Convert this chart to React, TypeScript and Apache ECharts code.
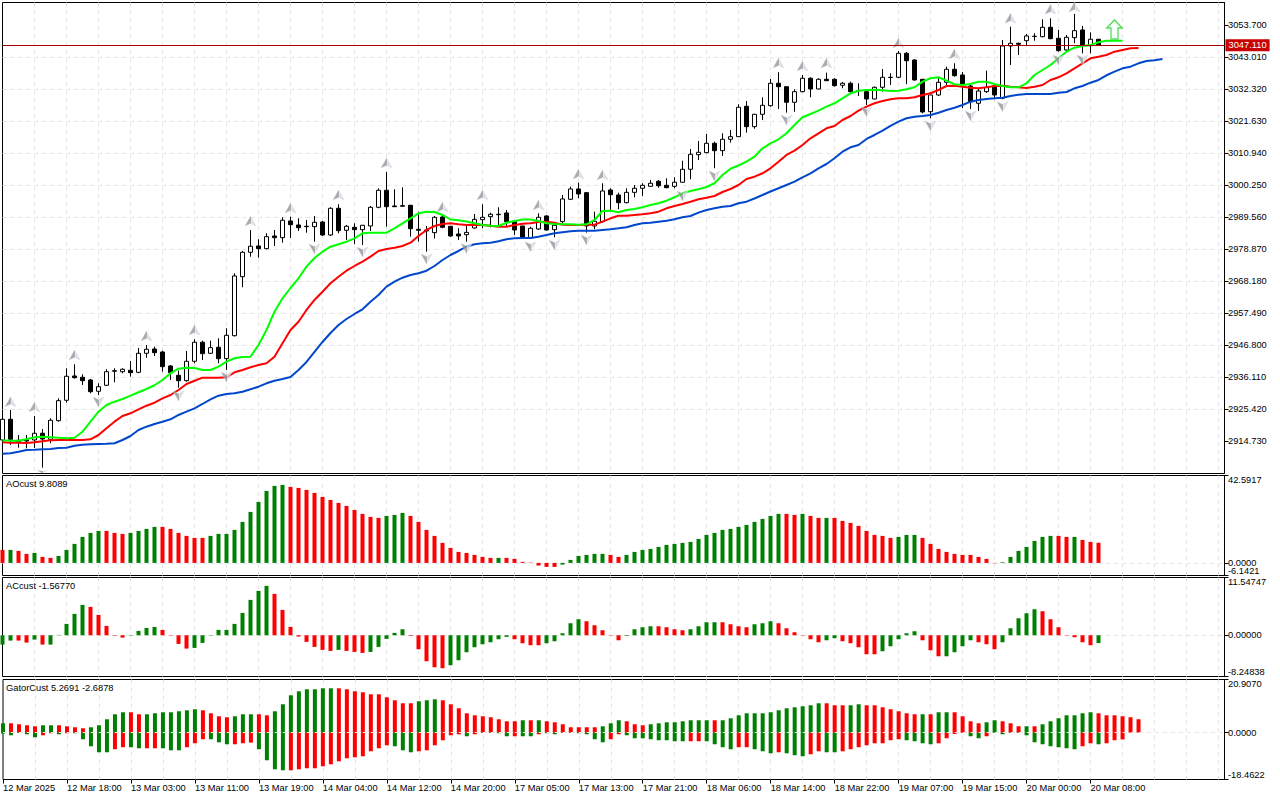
import React, { useEffect, useRef } from "react";
import * as echarts from "echarts";

// open, close, low, high per bar
const candles: number[][] = [
[2915.24,2922.15,2914.24,2923.26],[2922.15,2915.47,2913.57,2925.26],[2915.14,2914.67,2912.67,2916.91],[2915.24,2914.90,2912.46,2916.91],
[2915.24,2917.48,2912.57,2923.26],[2917.48,2915.57,2905.98,2918.91],[2915.47,2921.82,2914.14,2922.49],[2921.69,2928.37,2921.35,2929.17],
[2928.50,2936.52,2927.70,2939.19],[2936.62,2936.05,2935.72,2940.53],[2936.18,2935.05,2933.61,2937.19],[2935.28,2931.37,2930.84,2935.62],
[2931.51,2933.04,2930.27,2934.18],[2933.51,2938.05,2933.28,2938.86],[2938.19,2938.39,2934.51,2939.19],[2938.05,2938.86,2937.52,2939.19],
[2938.52,2937.72,2936.38,2941.63],[2937.85,2944.20,2937.52,2945.97],[2944.20,2945.54,2942.73,2946.97],[2945.64,2944.40,2943.30,2946.41],
[2944.63,2939.72,2938.05,2945.07],[2939.96,2937.72,2935.28,2940.29],[2936.85,2935.05,2932.71,2938.39],[2935.05,2941.53,2934.71,2944.97],
[2941.53,2947.88,2940.86,2948.88],[2947.88,2944.07,2941.96,2948.41],[2944.20,2946.07,2943.97,2948.41],[2946.20,2942.40,2940.86,2949.21],
[2942.40,2950.21,2938.62,2952.55],[2950.08,2970.02,2949.81,2970.93],[2969.79,2977.94,2966.25,2978.38],[2977.94,2979.95,2976.47,2985.39],
[2980.05,2979.14,2976.14,2982.28],[2979.14,2983.15,2978.94,2984.29],[2983.39,2982.82,2980.05,2985.39],[2982.82,2988.63,2981.15,2989.63],
[2988.40,2987.16,2982.72,2989.84],[2987.06,2986.16,2985.06,2989.30],[2986.63,2986.49,2984.49,2988.73],[2986.49,2987.96,2981.48,2990.07],
[2988.06,2983.72,2983.39,2988.40],[2983.72,2992.64,2983.39,2992.97],[2992.64,2985.16,2984.29,2993.97],[2985.29,2986.63,2982.05,2987.06],
[2986.29,2985.49,2980.71,2987.63],[2985.49,2986.96,2980.38,2987.06],[2986.73,2992.97,2985.06,2993.41],[2992.97,2998.65,2992.64,2999.32],
[2998.65,2993.17,2986.49,3004.77],[2993.41,2993.17,2993.10,2998.99],[2993.51,2993.34,2993.17,2999.66],[2993.64,2985.82,2983.15,2993.74],
[2985.62,2985.29,2981.48,2991.50],[2985.39,2985.06,2978.14,2986.73],[2984.49,2989.63,2982.55,2990.07],[2989.73,2986.29,2985.96,2990.07],
[2986.63,2983.39,2983.15,2986.73],[2984.05,2983.39,2982.05,2985.96],[2983.82,2984.59,2981.48,2987.39],[2986.06,2988.93,2985.82,2990.74],
[2988.83,2989.63,2985.96,2993.97],[2989.84,2990.64,2986.29,2991.17],[2990.50,2990.64,2987.06,2992.97],[2991.07,2988.17,2986.73,2992.07],
[2988.17,2985.39,2983.72,2988.73],[2986.73,2982.72,2982.48,2986.73],[2982.72,2985.96,2982.48,2986.49],[2985.72,2989.63,2985.39,2990.97],
[2990.07,2985.39,2985.16,2990.30],[2985.49,2986.96,2982.94,2987.63],[2988.17,2995.75,2987.63,2997.08],[2995.65,2999.09,2995.41,2999.86],
[2999.09,2997.42,2995.98,3001.19],[2997.85,2986.73,2984.49,2998.09],[2986.73,2988.30,2985.62,2991.50],[2988.17,2998.42,2987.83,3000.99],
[2998.75,2997.18,2992.07,2999.32],[2997.08,2994.51,2992.31,2997.85],[2994.51,2997.96,2994.30,2999.32],[2997.96,2999.32,2996.31,3000.42],
[2999.32,3000.32,2996.75,3000.99],[2999.98,3000.99,2999.86,3002.09],[3001.66,3000.19,2999.52,3002.09],[3000.32,2999.52,2999.32,3002.66],
[2999.98,3001.33,2999.32,3002.99],[3001.33,3005.67,3001.19,3008.54],[3005.67,3010.68,3002.33,3012.45],[3010.55,3011.35,3008.77,3015.12],
[3011.22,3014.35,3011.01,3017.46],[3014.35,3011.88,3006.00,3014.89],[3011.88,3015.69,3010.11,3017.69],[3015.69,3016.56,3014.60,3018.80],
[3016.56,3026.38,3016.46,3027.38],[3026.71,3019.90,3017.90,3028.48],[3019.90,3024.04,3019.23,3024.14],[3024.04,3027.05,3022.14,3029.72],
[3026.92,3034.40,3026.58,3035.83],[3034.40,3033.26,3025.81,3038.07],[3033.26,3028.05,3024.58,3033.26],[3028.05,3031.59,3024.91,3032.39],
[3031.59,3036.07,3031.39,3037.17],[3036.07,3032.49,3029.72,3036.40],[3032.49,3035.73,3032.39,3036.07],[3035.73,3035.26,3035.26,3037.94],
[3035.73,3033.59,3033.26,3036.07],[3033.73,3034.40,3032.73,3034.83],[3034.40,3031.59,3031.06,3034.93],[3031.99,3031.93,3030.15,3034.40],
[3031.59,3029.15,3027.15,3032.16],[3029.15,3033.06,3029.05,3033.30],[3033.06,3036.40,3031.59,3039.17],[3036.33,3036.40,3033.83,3037.74],
[3036.40,3044.41,3036.07,3045.18],[3044.41,3041.94,3034.08,3044.85],[3042.17,3035.50,3035.26,3042.40],[3035.73,3024.81,3024.37,3035.73],
[3024.91,3030.49,3022.70,3030.49],[3030.49,3034.73,3030.15,3036.60],[3034.73,3039.07,3033.26,3039.94],[3039.07,3036.93,3036.60,3041.08],
[3037.17,3033.83,3026.14,3038.17],[3033.49,3028.25,3025.81,3033.83],[3027.72,3031.82,3025.14,3032.73],[3031.59,3033.06,3031.16,3038.60],
[3033.49,3030.49,3029.05,3033.83],[3029.39,3046.86,3029.05,3048.86],[3046.86,3047.76,3040.51,3053.30],[3047.76,3047.43,3043.85,3047.96],
[3048.63,3050.20,3047.19,3050.87],[3050.03,3050.10,3048.63,3051.10],[3049.96,3053.10,3049.76,3055.78],[3053.10,3049.30,3049.10,3056.11],
[3049.43,3045.29,3044.96,3052.20],[3045.52,3049.76,3044.96,3050.53],[3049.63,3051.97,3047.76,3057.55],[3052.20,3046.96,3044.41,3053.54],
[3046.96,3049.10,3044.41,3051.40],[3049.10,3047.11,3046.86,3049.10],
];

const greenLine = [2915.13,2915.00,2915.00,2915.47,2916.13,2916.34,2916.13,2916.00,2915.80,2916.00,2918.01,2921.35,2924.69,2926.93,2928.03,2928.93,2930.03,2931.17,2932.27,2933.51,2935.28,2937.52,2939.05,2939.39,2939.29,2938.62,2938.62,2939.72,2941.39,2942.53,2942.96,2943.06,2946.97,2951.98,2958.09,2962.57,2966.01,2969.25,2973.13,2976.03,2978.14,2979.81,2980.61,2981.48,2982.61,2984.28,2984.48,2984.48,2984.48,2985.95,2987.62,2989.29,2990.96,2991.50,2991.40,2990.40,2988.89,2988.66,2988.22,2987.62,2987.06,2986.79,2986.72,2987.82,2988.39,2988.89,2988.89,2988.39,2987.62,2987.39,2987.29,2987.29,2987.16,2987.29,2988.73,2991.73,2991.83,2991.30,2992.07,2992.40,2992.97,2993.74,2994.31,2995.17,2996.31,2997.65,2998.41,2998.98,2999.75,3000.99,3003.76,3005.86,3006.93,3008.20,3009.87,3012.68,3014.35,3015.69,3017.69,3020.46,3023.04,3024.14,3025.24,3026.58,3027.71,3029.38,3031.05,3031.92,3032.15,3032.25,3032.05,3031.82,3031.92,3032.39,3033.06,3034.93,3036.06,3036.40,3035.26,3034.06,3033.82,3034.16,3034.93,3034.93,3034.16,3033.49,3033.06,3033.06,3034.39,3037.17,3038.84,3040.51,3042.74,3044.95,3046.29,3046.85,3047.19,3048.09,3048.62,3048.62,3048.62];

const redLine = [2914.46,2914.33,2914.33,2914.23,2914.46,2914.80,2915.13,2915.23,2915.23,2915.23,2915.23,2915.47,2916.90,2919.14,2921.35,2923.25,2924.15,2925.49,2926.69,2927.69,2929.16,2930.27,2931.94,2933.94,2935.04,2936.05,2936.05,2936.05,2936.18,2937.85,2938.62,2939.52,2940.29,2940.86,2943.06,2947.54,2951.98,2954.75,2958.66,2962.00,2964.77,2967.58,2969.78,2971.79,2973.36,2974.80,2976.47,2978.37,2979.04,2979.47,2980.04,2981.14,2983.38,2985.39,2986.72,2987.39,2987.62,2987.29,2987.06,2987.16,2987.06,2986.82,2986.49,2986.49,2987.06,2987.49,2987.62,2988.06,2988.16,2987.82,2987.16,2987.06,2987.06,2987.16,2987.16,2988.16,2989.29,2990.16,2990.16,2990.40,2990.63,2990.96,2991.50,2992.63,2993.40,2994.07,2994.84,2995.64,2996.18,2996.74,2998.08,2999.08,3000.42,3002.42,3003.19,3004.33,3006.00,3008.20,3010.44,3011.88,3013.78,3016.02,3017.69,3019.36,3020.13,3022.13,3023.47,3025.24,3026.58,3027.71,3028.48,3029.05,3029.38,3029.38,3029.72,3030.48,3031.05,3032.15,3033.49,3033.59,3033.26,3032.92,3032.72,3033.06,3033.49,3033.59,3033.26,3033.06,3032.82,3033.26,3033.82,3035.50,3036.40,3037.73,3039.40,3041.07,3042.74,3043.28,3043.85,3044.95,3045.52,3046.08,3046.19];

const blueLine = [2910.66,2910.79,2911.32,2911.89,2911.99,2912.13,2912.23,2912.56,2912.66,2913.33,2913.66,2913.80,2913.90,2914.00,2914.13,2915.23,2916.57,2918.57,2919.68,2920.58,2921.35,2922.15,2923.59,2924.69,2925.82,2927.26,2928.83,2930.03,2930.60,2930.83,2931.37,2932.17,2933.04,2934.17,2935.04,2935.61,2936.28,2938.62,2941.29,2944.63,2947.97,2950.98,2953.65,2955.65,2957.33,2958.89,2961.43,2963.67,2966.45,2968.12,2969.45,2970.35,2970.92,2971.79,2973.36,2975.36,2977.03,2978.37,2979.81,2980.61,2980.94,2981.14,2981.61,2982.28,2982.61,2982.71,2982.71,2983.15,2983.72,2984.28,2984.62,2984.95,2985.15,2985.15,2985.15,2985.39,2985.62,2985.95,2986.29,2987.06,2987.62,2987.82,2988.16,2988.49,2988.96,2989.63,2990.06,2991.17,2992.07,2992.63,2993.17,2993.40,2994.31,2994.84,2995.91,2997.08,2998.25,2999.32,3000.42,3001.52,3002.99,3004.33,3006.00,3007.43,3009.34,3011.54,3013.01,3013.78,3015.79,3017.12,3018.56,3020.13,3021.56,3022.70,3023.24,3023.47,3023.80,3024.57,3025.47,3026.24,3027.14,3028.25,3028.81,3029.15,3029.38,3029.58,3030.15,3030.58,3030.82,3030.82,3030.82,3030.82,3031.25,3031.49,3032.72,3033.49,3034.59,3035.50,3037.07,3038.27,3039.40,3039.94,3041.07,3041.84,3042.08,3042.51];

// [bar index, price]
const fractalUp = [[1,2928.03],[4,2926.26],[9,2943.63],[18,2949.98],[24,2951.98],[31,2988.39],[36,2992.74],[42,2997.08],[48,3007.77],[55,2993.07],[60,2997.08],[67,2993.74],[72,3004.09],[75,3003.76],[97,3041.17],[100,3040.17],[103,3041.17],[112,3047.86],[119,3044.18],[126,3056.11],[131,3059.11],[134,3059.9]];
const fractalDown = [[12,2927.93],[22,2929.93],[28,2936.28],[39,2979.04],[45,2978.04],[53,2975.70],[58,2979.21],[66,2979.81],[69,2980.38],[73,2982.05],[85,2996.74],[89,3003.43],[98,3022.13],[108,3024.91],[116,3020.13],[121,3023.47],[125,3026.58],[132,3042.18],[135,3042.18]];
const clippedDown = [[5,2904.6]];
const signalArrow = [[139,3052.37]];

const aoValues = [6.33,6.33,5.85,4.39,4.87,2.92,2.44,3.41,6.33,9.26,12.67,14.62,15.59,15.59,14.62,14.13,14.62,15.59,16.57,17.54,17.54,16.57,14.62,13.16,12.18,12.18,13.16,14.13,14.13,16.08,19.98,24.85,29.72,35.08,37.52,38.0,37.03,36.54,35.57,34.11,32.16,30.7,29.23,27.77,25.82,23.88,22.41,21.93,22.9,23.39,24.36,22.9,19.98,16.08,13.16,9.75,7.31,5.36,4.87,3.9,2.92,2.44,2.44,2.44,1.95,0.49,0.16,-1.3,-1.95,-1.95,-0.81,1.46,3.41,3.9,4.39,4.39,3.9,2.92,3.9,5.36,6.33,6.82,7.8,8.77,9.26,9.75,10.23,11.69,13.64,14.62,16.08,16.57,17.54,18.52,19.98,21.44,22.9,23.88,23.88,23.39,23.88,22.9,21.93,21.93,21.93,20.46,19.49,18.03,15.59,13.64,13.16,12.18,12.67,13.64,13.64,12.18,9.26,6.82,5.36,4.39,3.9,3.9,2.92,1.95,-0.16,0.32,2.92,5.85,7.8,10.72,12.67,13.16,13.16,12.67,12.67,11.21,10.23,9.81];
const aoColorRuns = "r1 g1 r2 g1 r2 g6 r3 g4 r6 g10 r12 g3 r11 g1 r7 g6 r2 g20 r2 g1 r2 g1 r8 g3 r10 g7 r2 g1 r3";

const acValues = [-1.87,-1.07,-1.07,-1.47,-0.87,-1.87,-1.87,0.07,2.27,4.27,6.07,5.67,4.07,1.87,-0.1,-0.47,-0.07,0.87,1.47,1.67,1.07,-0.07,-1.73,-2.67,-2.53,-1.53,-0.07,1.07,1.07,2.27,4.47,7.07,8.87,9.87,8.27,5.07,1.67,-0.27,-1.33,-2.33,-2.93,-3.13,-2.93,-3.13,-3.33,-3.53,-3.33,-2.33,-0.73,0.47,1.2,-0.13,-2.8,-5.2,-6.4,-6.6,-6.0,-5.0,-3.4,-2.4,-1.8,-1.4,-0.8,-0.33,-0.8,-1.6,-2.0,-2.0,-1.6,-1.2,0.4,2.4,3.2,2.8,2.0,1.0,-0.07,-1.0,-0.13,1.2,1.6,1.8,1.8,1.6,1.2,1.0,1.2,1.8,2.6,2.6,2.6,2.2,1.8,1.6,2.2,2.4,2.8,2.4,1.4,0.6,-0.07,-0.8,-1.4,-1.0,-0.6,-1.2,-1.6,-2.4,-3.8,-3.8,-3.2,-2.2,-0.8,0.4,0.8,-1.0,-3.0,-4.2,-4.2,-3.4,-2.2,-1.0,-1.4,-1.8,-2.8,-1.4,1.4,3.4,4.4,5.2,4.8,3.2,1.6,-0.07,-0.4,-1.4,-2.0,-1.57];
const acColorRuns = "g2 r2 g1 r1 g5 r5 g4 r4 g10 r8 g1 r3 g5 r5 g8 r4 g5 r5 g4 r4 g4 r4 g3 r6 g2 r5 g5 r3 g4 r3 g5 r7 g1";

const gatorUp = [3.67,3.67,3.28,2.89,2.49,2.89,2.89,2.89,2.49,2.10,1.71,2.10,2.89,5.25,7.22,8.01,8.01,7.22,7.22,7.61,8.01,8.01,8.40,8.79,9.19,8.79,7.61,6.43,6.04,6.43,7.22,7.22,7.22,6.82,8.40,11.15,14.70,16.27,17.06,17.06,17.45,17.45,17.45,17.06,16.27,15.88,15.09,15.09,13.91,12.73,11.55,11.55,12.34,12.73,13.12,12.73,11.15,9.58,7.61,6.82,6.43,6.04,5.25,4.46,4.46,4.86,4.86,4.86,4.46,4.07,3.28,2.10,2.10,2.10,2.10,2.49,3.67,4.86,4.46,3.28,2.89,3.28,3.67,4.07,4.07,4.46,4.86,4.86,4.86,4.86,4.86,5.64,6.82,7.61,7.61,7.61,8.01,8.79,9.58,9.97,10.37,10.76,11.55,11.55,10.76,10.76,10.76,11.15,10.76,10.76,9.97,9.19,8.40,7.61,7.22,7.22,7.22,8.01,8.01,8.01,6.43,4.46,3.67,4.07,4.86,4.46,3.67,2.49,2.49,2.49,3.28,4.46,5.64,6.82,6.82,7.61,8.01,7.61,6.82,6.82,6.43,6.04,5.27];
const gatorUpRuns = "g1 r4 g2 r4 g5 r2 g7 r4 g3 r2 g8 r10 g3 r10 g1 r1 g1 r7 g3 r3 g8 r1 g13 r3 g2 r7 g1 r1 g2 r4 g2 r3 g1 r1 g7 r6";
const gatorDown = [-0.39,-1.05,-0.13,-0.66,-1.84,-1.05,-0.26,-0.66,-0.26,-0.26,-2.62,-5.38,-7.74,-7.74,-6.56,-5.77,-5.77,-6.17,-6.17,-6.17,-6.17,-6.96,-6.96,-5.77,-4.2,-2.62,-2.62,-3.81,-4.59,-4.59,-4.2,-3.94,-6.56,-10.89,-14.44,-14.83,-14.83,-14.44,-14.04,-14.04,-13.25,-12.47,-11.29,-10.1,-9.71,-9.32,-7.35,-6.17,-4.99,-5.38,-6.96,-7.74,-7.35,-6.96,-4.99,-3.02,-1.05,-0.66,-1.44,-0.66,-0.13,-0.13,-0.26,-1.44,-1.44,-1.44,-1.44,-0.66,-0.26,-0.66,-0.13,-0.13,-0.26,-0.66,-2.62,-3.81,-2.62,-0.66,-1.05,-2.23,-2.23,-2.62,-3.02,-3.02,-3.41,-3.41,-3.41,-3.41,-3.41,-4.59,-5.77,-6.56,-5.77,-5.77,-6.56,-7.35,-8.14,-7.74,-8.14,-8.92,-9.32,-8.53,-7.35,-7.74,-7.74,-7.35,-6.56,-5.77,-4.99,-4.2,-4.2,-3.02,-2.62,-3.02,-3.41,-4.2,-4.59,-4.2,-2.23,-0.52,-0.13,-1.44,-2.23,-1.44,-0.13,-0.66,-0.13,-0.13,-1.05,-3.81,-4.59,-5.38,-5.77,-6.17,-6.56,-5.38,-4.2,-4.59,-4.2,-3.02,-2.69];
const gatorDownRuns = "g5 r2 g1 r1 g5 r2 g2 r2 g3 r3 g3 r3 g4 r13 g3 r6 g1 r1 g4 r1 g2 r1 g8 r2 g8 r2 g4 r2 g3 r1 g3 r2 g2 r8 g4 r4 g2 r1 g11 r2 g1 r3";

const timeLabels = ["12 Mar 2025","12 Mar 18:00","13 Mar 03:00","13 Mar 11:00","13 Mar 19:00","14 Mar 04:00","14 Mar 12:00","14 Mar 20:00","17 Mar 05:00","17 Mar 13:00","17 Mar 21:00","18 Mar 06:00","18 Mar 14:00","18 Mar 22:00","19 Mar 07:00","19 Mar 15:00","20 Mar 00:00","20 Mar 08:00"];
const priceTicks = [3053.70,3043.01,3032.32,3021.63,3010.94,3000.25,2989.56,2978.87,2968.18,2957.49,2946.80,2936.11,2925.42,2914.73];
const currentPrice = 3047.11;

const FONT = "Liberation Sans";
const FS = 9.3;
const GREEN = "#008000";
const RED = "#ff0000";
const GRIDC = "#e4e4e4";
const DASH = [4, 4];
const X_MAX = 152.75;

const gridLinesAt: number[] = [];
for (let v = 4; v <= 152; v += 4) gridLinesAt.push(v);
const labelsAt = timeLabels.map((_, k) => k * 8);

const panes = [
  { top: 2.5, height: 471 },
  { top: 475.5, height: 100 },
  { top: 577.5, height: 99 },
  { top: 679.5, height: 100 },
];

const colorsOf = (runs: string) =>
  runs.split(" ").flatMap((r) => Array(Number(r.slice(1))).fill(r[0] === "g" ? GREEN : RED));
const barData = (vals: number[], runs: string) => {
  const cols = colorsOf(runs);
  return vals.map((v, i) => ({ value: [i, v], itemStyle: { color: cols[i] } }));
};
const lineData = (vals: number[]) => vals.map((v, i) => [i, v]);

const ARROW_UP = "path://M5.5 0 L11 10 L5.5 7.5 L0 10 Z";
const ARROW_DOWN = "path://M0 0 L5.5 2.5 L11 0 L5.5 10 Z";
const BIG_ARROW = "path://M7.5 0 L15 8 L11 8 L11 19 L4 19 L4 8 L0 8 Z";
const arrowFill = {
  type: "linear", x: 0, y: 0, x2: 1, y2: 0,
  colorStops: [
    { offset: 0, color: "#8a8a8a" },
    { offset: 0.52, color: "#9a9a9a" },
    { offset: 0.53, color: "#dfe3ec" },
    { offset: 1, color: "#c4c8d4" },
  ],
};

const labelFont = { fontFamily: FONT, fontSize: FS, color: "#000" };

const xAxisFor = (gridIndex: number) => ({
  type: "value", gridIndex, min: 0, max: X_MAX,
  axisLine: { show: false }, axisLabel: { show: false },
  axisTick: { show: false, customValues: gridLinesAt },
  splitLine: { show: true, lineStyle: { color: GRIDC, type: DASH, width: 1 } },
});

const yAxisFor = (gridIndex: number, min: number, max: number, ticks: number[], labels: number[], digits: number) => ({
  type: "value", gridIndex, position: "right", min, max, scale: true,
  axisLine: { show: true, onZero: false, lineStyle: { color: "#000", width: 1 } },
  axisTick: { show: true, length: 4, customValues: ticks, lineStyle: { color: "#000" } },
  axisLabel: {
    ...labelFont, margin: 3.5, customValues: labels, hideOverlap: false,
    showMinLabel: true, showMaxLabel: true,
    verticalAlignMinLabel: "bottom", verticalAlignMaxLabel: "top",
    formatter: (v: number) => v.toFixed(digits),
  },
  splitLine: { show: true, showMinLine: false, showMaxLine: false, lineStyle: { color: GRIDC, type: DASH, width: 1 } },
});

export default function App() {
  const ref = useRef<HTMLDivElement>(null);
  useEffect(() => {
    document.body.style.margin = "0";
    const chart = echarts.init(ref.current!, undefined, { renderer: "svg" });
    const mainAxis: any = yAxisFor(0, 2904.04, 3061.38, priceTicks, priceTicks, 3);
    mainAxis.axisLabel.verticalAlignMinLabel = undefined;
    mainAxis.axisLabel.verticalAlignMaxLabel = undefined;
    chart.setOption({
      animation: false,
      backgroundColor: "#fff",
      grid: panes.map((p) => ({
        left: 2.5, width: 1222, top: p.top, height: p.height,
        show: true, borderColor: "#000", borderWidth: 1, backgroundColor: "transparent", containLabel: false,
      })),
      xAxis: [
        xAxisFor(0), xAxisFor(1), xAxisFor(2), xAxisFor(3),
        {
          type: "value", gridIndex: 3, min: 0, max: X_MAX, position: "bottom",
          axisLine: { show: false },
          axisTick: { show: true, length: 4, customValues: labelsAt, lineStyle: { color: "#000" } },
          splitLine: { show: false },
          axisLabel: {
            ...labelFont, align: "left", margin: 4, customValues: labelsAt, hideOverlap: false,
            showMinLabel: true, showMaxLabel: true,
            formatter: (v: number) => timeLabels[Math.round(v / 8)],
          },
        },
      ],
      yAxis: [
        mainAxis,
        yAxisFor(1, -6.1421, 42.5917, [-6.1421, 0, 42.5917], [-6.1421, 42.5917], 4),
        yAxisFor(2, -8.24838, 11.54747, [-8.24838, 0, 11.54747], [-8.24838, 0, 11.54747], 5),
        yAxisFor(3, -18.4622, 20.907, [-18.4622, 0, 20.907], [-18.4622, 0, 20.907], 4),
        {
          type: "value", gridIndex: 1, position: "right", min: -6.1421, max: 42.5917,
          axisLine: { show: false }, splitLine: { show: false },
          axisTick: { show: false, customValues: [0] },
          axisLabel: { ...labelFont, margin: 3.5, customValues: [0], formatter: (v: number) => v.toFixed(4) },
        },
      ],
      series: [
        {
          type: "candlestick", xAxisIndex: 0, yAxisIndex: 0, barWidth: 5, z: 2,
          data: candles.map((c, i) => [i, c[0], c[1], c[2], c[3]]),
          itemStyle: { color: "#fff", color0: "#000", borderColor: "#000", borderColor0: "#000", borderWidth: 1 },
          markLine: {
            silent: true, symbol: "none", animation: false,
            lineStyle: { color: "#a80000", type: "solid", width: 1 },
            label: {
              show: true, position: "end", distance: 1, formatter: currentPrice.toFixed(3),
              backgroundColor: "#c80000", color: "#fff", fontFamily: FONT, fontSize: FS, padding: [2, 3, 1, 3],
            },
            data: [{ yAxis: currentPrice }],
          },
        },
        { type: "line", xAxisIndex: 0, yAxisIndex: 0, z: 3, showSymbol: false, symbol: "none", data: lineData(blueLine), lineStyle: { color: "#0047cc", width: 2 } },
        { type: "line", xAxisIndex: 0, yAxisIndex: 0, z: 3, showSymbol: false, symbol: "none", data: lineData(redLine), lineStyle: { color: "#ff0000", width: 2 } },
        { type: "line", xAxisIndex: 0, yAxisIndex: 0, z: 3, showSymbol: false, symbol: "none", data: lineData(greenLine), lineStyle: { color: "#00ff00", width: 2 } },
        {
          type: "scatter", xAxisIndex: 0, yAxisIndex: 0, z: 4, symbol: ARROW_UP, symbolSize: [11, 10], data: fractalUp,
          itemStyle: { color: arrowFill as any, borderColor: "#d5d9e4", borderWidth: 0.5 },
        },
        {
          type: "scatter", xAxisIndex: 0, yAxisIndex: 0, z: 4, symbol: ARROW_DOWN, symbolSize: [11, 10], data: fractalDown,
          itemStyle: { color: arrowFill as any, borderColor: "#d5d9e4", borderWidth: 0.5 },
        },
        {
          type: "scatter", xAxisIndex: 0, yAxisIndex: 0, z: 4, symbol: ARROW_DOWN, symbolSize: [11, 3], data: clippedDown,
          itemStyle: { color: arrowFill as any },
        },
        {
          type: "scatter", xAxisIndex: 0, yAxisIndex: 0, z: 5, symbol: BIG_ARROW, symbolSize: [15, 19], data: signalArrow,
          itemStyle: { color: "#f4fffa", borderColor: "#35d335", borderWidth: 1.5 },
        },
        { type: "bar", xAxisIndex: 1, yAxisIndex: 1, barWidth: 4, data: barData(aoValues, aoColorRuns) },
        { type: "bar", xAxisIndex: 2, yAxisIndex: 2, barWidth: 4, data: barData(acValues, acColorRuns) },
        { type: "bar", xAxisIndex: 3, yAxisIndex: 3, barWidth: 4, stack: "gator", data: barData(gatorUp, gatorUpRuns) },
        {
          type: "bar", xAxisIndex: 3, yAxisIndex: 3, barWidth: 4, stack: "gator", data: barData(gatorDown, gatorDownRuns),
          markLine: {
            silent: true, symbol: "none", animation: false, label: { show: false }, z: 6,
            lineStyle: { color: "#e8e8e8", type: DASH, width: 1 },
            data: [{ yAxis: 0 }],
          },
        },
      ],
      graphic: [
        { type: "text", left: 6, top: 479.5, z: 10, style: { text: "AOcust 9.8089", fontFamily: FONT, fontSize: FS, fill: "#000" } },
        { type: "text", left: 6, top: 581.5, z: 10, style: { text: "ACcust -1.56770", fontFamily: FONT, fontSize: FS, fill: "#000" } },
        { type: "text", left: 6, top: 683.5, z: 10, style: { text: "GatorCust 5.2691 -2.6878", fontFamily: FONT, fontSize: FS, fill: "#000" } },
      ],
    });
    return () => chart.dispose();
  }, []);
  return <div ref={ref} style={{ width: 1280, height: 800 }} />;
}
